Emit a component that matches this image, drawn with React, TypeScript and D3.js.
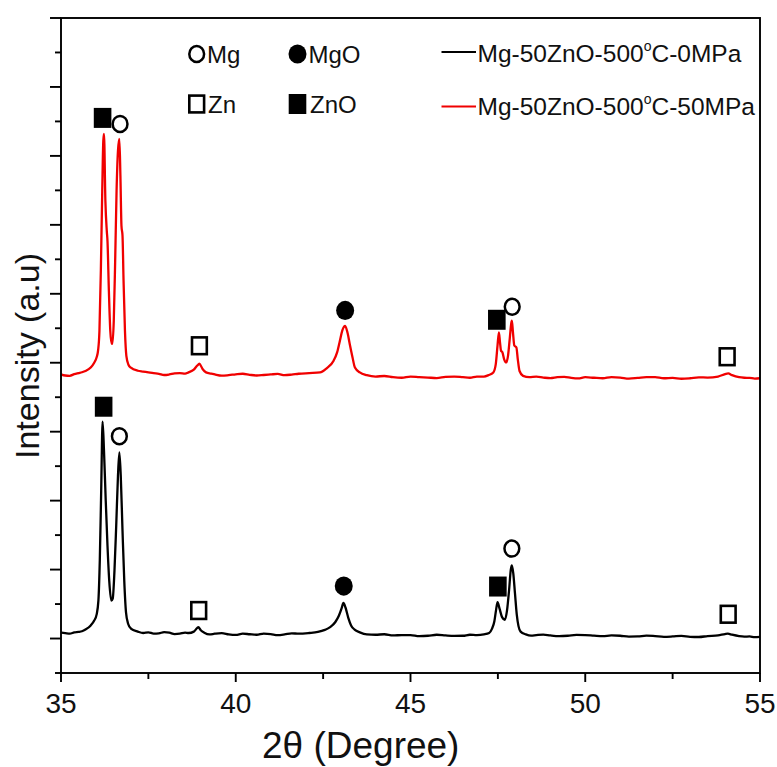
import React from "react";
import * as d3 from "d3";

// 2θ (deg) and intensity (counts)
const scan0MPa: [number, number][] = [
  [35.0, 85], [35.12, 78], [35.25, 70], [35.38, 88], [35.5, 95], [35.6, 105],
  [35.7, 130], [35.85, 190], [35.95, 260],
  [36.02, 350], [36.07, 550], [36.11, 1130], [36.15, 2145], [36.19, 3145],
  [36.23, 2725], [36.28, 2000], [36.33, 1350], [36.38, 840], [36.44, 550],
  [36.48, 580], [36.53, 985], [36.58, 1640], [36.63, 2360], [36.67, 2700],
  [36.71, 2360], [36.76, 1565], [36.81, 840], [36.86, 380], [36.92, 215],
  [37.0, 145], [37.2, 100], [37.35, 80], [37.5, 90], [37.65, 72], [37.8, 75],
  [37.95, 92], [38.1, 85], [38.25, 65], [38.4, 70], [38.55, 85],
  [38.65, 80], [38.8, 100], [38.9, 155], [38.93, 165], [39.0, 120], [39.1, 85],
  [39.25, 60], [39.4, 70], [39.6, 78], [39.8, 60], [40.0, 52], [40.2, 70],
  [40.4, 62], [40.6, 55], [40.8, 72], [41.0, 65], [41.2, 50], [41.4, 60],
  [41.6, 76], [41.8, 70], [42.1, 80], [42.35, 95], [42.55, 125], [42.7, 165],
  [42.85, 240], [42.95, 330], [43.03, 440], [43.08, 517], [43.14, 450],
  [43.22, 300], [43.3, 190], [43.4, 130], [43.55, 90], [43.75, 60], [44.0, 55],
  [44.25, 62], [44.5, 45], [44.75, 50], [45.0, 50], [45.25, 35], [45.5, 40],
  [45.75, 55], [46.0, 45], [46.25, 38], [46.5, 40], [46.7, 55], [46.9, 50],
  [47.1, 60], [47.25, 80], [47.33, 140], [47.4, 250], [47.45, 420], [47.49, 526],
  [47.55, 430], [47.62, 310], [47.7, 271], [47.76, 400], [47.82, 700],
  [47.87, 1000], [47.9, 1060], [47.94, 950], [47.99, 650], [48.04, 350],
  [48.09, 180], [48.15, 100], [48.3, 60], [48.45, 42], [48.6, 50], [48.8, 58],
  [49.0, 45], [49.25, 35], [49.5, 40], [49.75, 52], [50.0, 50], [50.25, 42],
  [50.5, 35], [50.75, 45], [51.0, 40], [51.25, 28], [51.5, 30], [51.75, 42],
  [52.0, 35], [52.25, 25], [52.5, 30], [52.75, 38], [53.0, 25], [53.25, 22],
  [53.5, 35], [53.8, 45], [54.0, 65], [54.08, 70], [54.2, 55],
  [54.4, 35], [54.55, 28], [54.7, 30], [54.85, 20], [55.0, 25],
];

const scan50MPa: [number, number][] = [
  [35.0, 3830], [35.12, 3815], [35.25, 3810], [35.38, 3835], [35.5, 3850],
  [35.6, 3862], [35.7, 3880], [35.85, 3930],
  [35.95, 4000], [36.02, 4080], [36.06, 4174], [36.1, 4464], [36.14, 5333],
  [36.18, 6493], [36.21, 7217], [36.23, 7319], [36.27, 6348], [36.31, 5913],
  [36.33, 5768], [36.37, 5043], [36.41, 4464], [36.45, 4275], [36.47, 4275],
  [36.51, 4609], [36.55, 5478], [36.59, 6493], [36.63, 7073], [36.67, 7246],
  [36.7, 6710], [36.73, 5986], [36.76, 5841], [36.79, 5188], [36.83, 4464],
  [36.87, 4101], [36.93, 3971], [37.0, 3928], [37.2, 3884], [37.35, 3872],
  [37.5, 3860], [37.65, 3848], [37.8, 3840], [37.95, 3822], [38.1, 3830],
  [38.25, 3845], [38.4, 3850], [38.55, 3842], [38.65, 3860], [38.8, 3900],
  [38.9, 3960], [38.96, 3985], [39.05, 3910], [39.15, 3860], [39.3, 3842],
  [39.4, 3830], [39.6, 3812], [39.8, 3820], [40.0, 3832], [40.2, 3840],
  [40.4, 3825], [40.6, 3815], [40.8, 3822], [41.0, 3830], [41.2, 3838],
  [41.4, 3820], [41.6, 3828], [41.8, 3840], [42.1, 3850], [42.41, 3860],
  [42.6, 3920], [42.8, 4030],
  [42.9, 4150], [42.98, 4320], [43.05, 4470], [43.13, 4536], [43.2, 4430],
  [43.27, 4250], [43.34, 4080], [43.41, 3930], [43.55, 3860], [43.75, 3820],
  [44.0, 3800], [44.25, 3808], [44.5, 3790], [44.75, 3782], [45.0, 3800],
  [45.25, 3792], [45.5, 3785], [45.75, 3778], [46.0, 3795], [46.25, 3800],
  [46.5, 3790], [46.7, 3782], [46.9, 3800], [47.1, 3800], [47.23, 3820],
  [47.37, 3860], [47.44, 3980], [47.49, 4250], [47.53, 4440], [47.56, 4300],
  [47.59, 4174], [47.63, 4150], [47.68, 4050], [47.74, 4004], [47.79, 4100],
  [47.84, 4350], [47.88, 4560], [47.9, 4609], [47.93, 4450], [47.97, 4250],
  [48.03, 4222], [48.07, 4050], [48.12, 3880], [48.22, 3810], [48.4, 3790],
  [48.6, 3798], [48.8, 3785], [49.0, 3776], [49.2, 3790], [49.4, 3796],
  [49.6, 3780], [49.8, 3772], [50.0, 3790], [50.25, 3782], [50.5, 3775],
  [50.75, 3790], [51.0, 3785], [51.25, 3770], [51.5, 3780], [51.75, 3792],
  [52.0, 3790], [52.25, 3775], [52.5, 3780], [52.75, 3768], [53.0, 3775],
  [53.25, 3788], [53.5, 3785], [53.8, 3800], [54.0, 3835], [54.09, 3845],
  [54.2, 3820], [54.4, 3790], [54.55, 3782], [54.7, 3780], [54.85, 3770],
  [55.0, 3775],
];

// Phase labels placed above the reflections: [phase, 2θ, intensity]
type Phase = "Mg" | "MgO" | "Zn" | "ZnO";
const peakLabels: [Phase, number, number][] = [
  ["ZnO", 36.19, 7551], ["Mg", 36.69, 7464], ["Zn", 38.96, 4246],
  ["MgO", 43.13, 4758], ["ZnO", 47.47, 4623], ["Mg", 47.91, 4812],
  ["Zn", 54.06, 4087],
  ["ZnO", 36.22, 3362], ["Mg", 36.67, 2935], ["Zn", 38.94, 406],
  ["MgO", 43.09, 761], ["ZnO", 47.5, 754], ["Mg", 47.9, 1304],
  ["Zn", 54.09, 352],
];

const xTicks = [35, 40, 45, 50, 55];
const xMinorTicks = [37.5, 42.5, 47.5, 52.5];
const yTicks = [0, 1000, 2000, 3000, 4000, 5000, 6000, 7000, 8000, 9000];
const yMinorTicks = [-500, 500, 1500, 2500, 3500, 4500, 5500, 6500, 7500, 8500];

const seriesNames = ["Mg-50ZnO-500", "Mg-50ZnO-500"];
const seriesTails = ["C-0MPa", "C-50MPa"];
const seriesColors = ["#000000", "#f00000"];

const W = 777;
const H = 767;
const left = 61;
const right = 760;
const top = 18;
const bottom = 673;
const font = "Arial, 'Liberation Sans', sans-serif";

function PhaseMark({ phase, cx, cy }: { phase: Phase; cx: number; cy: number }) {
  if (phase === "Mg")
    return <ellipse cx={cx} cy={cy} rx={7.4} ry={8} fill="#fff" stroke="#000" strokeWidth={2.5} />;
  if (phase === "MgO")
    return <ellipse cx={cx} cy={cy} rx={9} ry={9.6} fill="#000" />;
  if (phase === "Zn")
    return <rect x={cx - 7.4} y={cy - 8.4} width={14.8} height={16.8} fill="#fff" stroke="#000" strokeWidth={2.6} />;
  return <rect x={cx - 8.8} y={cy - 10} width={17.6} height={20} fill="#000" />;
}

export default function App() {
  const x = d3.scaleLinear().domain([35, 55]).range([left, right]);
  const y = d3.scaleLinear().domain([-500, 9000]).range([bottom, top]);
  const line = d3
    .line<[number, number]>()
    .x((d) => x(d[0]))
    .y((d) => y(d[1]))
    .curve(d3.curveMonotoneX);

  const scans = [scan0MPa, scan50MPa];

  return (
    <svg
      width={W}
      height={H}
      style={{ position: "absolute", left: 0, top: 0, background: "#fff" }}
      fontFamily={font}
    >
      <rect width={W} height={H} fill="#fff" />
      <defs>
        <clipPath id="plot">
          <rect x={left} y={top} width={right - left} height={bottom - top} />
        </clipPath>
      </defs>

      {/* traces */}
      <g clipPath="url(#plot)" fill="none" strokeWidth={2.3} strokeLinejoin="round">
        {scans.map((s, i) => (
          <path key={i} d={line(s) || ""} stroke={seriesColors[i]} />
        ))}
      </g>

      {/* phase markers */}
      {peakLabels.map(([p, tt, v], i) => (
        <PhaseMark key={i} phase={p} cx={x(tt)} cy={y(v)} />
      ))}

      {/* frame */}
      <rect
        x={left}
        y={top}
        width={right - left}
        height={bottom - top}
        fill="none"
        stroke="#000"
        strokeWidth={1.9}
      />

      {/* x axis ticks */}
      {xTicks.map((t) => (
        <g key={t}>
          <line x1={x(t)} x2={x(t)} y1={bottom} y2={bottom + 9} stroke="#000" strokeWidth={1.9} />
          <text x={x(t)} y={713} textAnchor="middle" fontSize={28} fill="#111">
            {t}
          </text>
        </g>
      ))}
      {xMinorTicks.map((t) => (
        <line key={t} x1={x(t)} x2={x(t)} y1={bottom} y2={bottom + 6} stroke="#000" strokeWidth={1.9} />
      ))}

      {/* y axis ticks */}
      {yTicks.map((t) => (
        <line key={t} x1={left - 11} x2={left} y1={y(t)} y2={y(t)} stroke="#000" strokeWidth={1.9} />
      ))}
      {yMinorTicks.map((t) => (
        <line key={t} x1={left - 6} x2={left} y1={y(t)} y2={y(t)} stroke="#000" strokeWidth={1.9} />
      ))}

      {/* axis titles */}
      <text x={262} y={758} textAnchor="start" fontSize={37} fill="#111">
        2θ (Degree)
      </text>
      <text
        transform={`translate(39, 356) rotate(-90)`}
        textAnchor="middle"
        fontSize={34}
        fill="#111"
      >
        Intensity (a.u)
      </text>

      {/* phase legend */}
      <g fontSize={24} fill="#111">
        <PhaseMark phase="Mg" cx={196.7} cy={54} />
        <text x={207} y={62.5}>Mg</text>
        <PhaseMark phase="MgO" cx={297.5} cy={54} />
        <text x={308.5} y={62.5}>MgO</text>
        <PhaseMark phase="Zn" cx={196.7} cy={104} />
        <text x={208} y={113}>Zn</text>
        <PhaseMark phase="ZnO" cx={297.5} cy={104} />
        <text x={310} y={113}>ZnO</text>
      </g>

      {/* series legend */}
      {seriesNames.map((n, i) => {
        const ly = i === 0 ? 52 : 106.5;
        const by = i === 0 ? 61.5 : 115;
        return (
          <g key={i}>
            <line x1={441.5} x2={476} y1={ly} y2={ly} stroke={seriesColors[i]} strokeWidth={2.2} />
            <text x={477.5} y={by} fontSize={24.5} fill="#111">
              {n}
              <tspan fontSize={14} dy={-11}>o</tspan>
              <tspan dy={11}>{seriesTails[i]}</tspan>
            </text>
          </g>
        );
      })}
    </svg>
  );
}
